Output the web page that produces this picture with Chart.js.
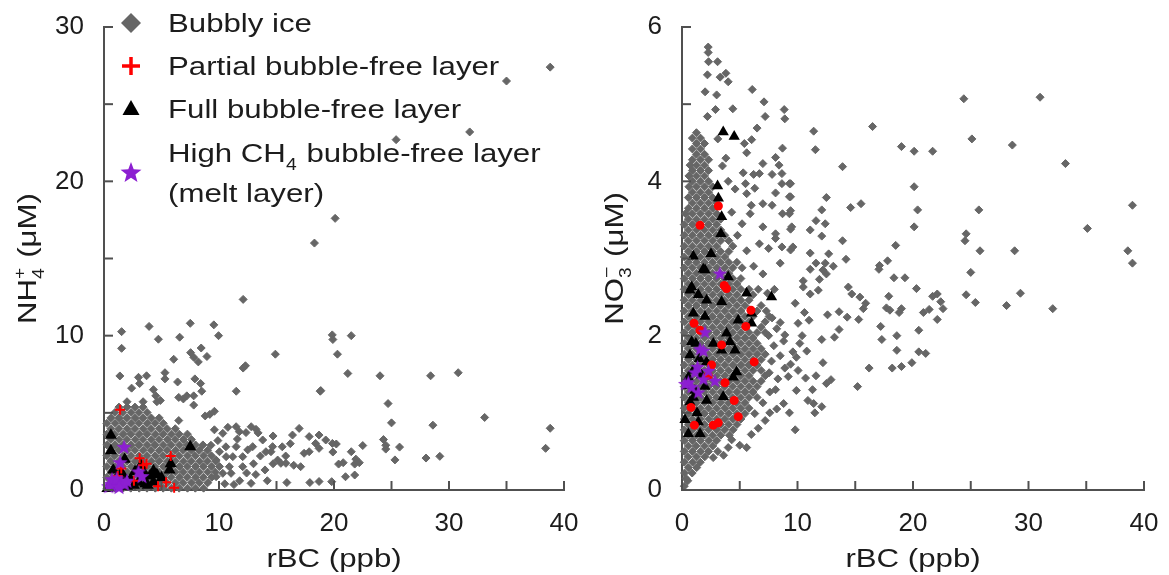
<!DOCTYPE html>
<html>
<head>
<meta charset="utf-8">
<script src="https://cdn.jsdelivr.net/npm/chart.js@4/dist/chart.umd.min.js"></script>
<style>
html, body { margin: 0; padding: 0; background: #fff; }
#wrap { position: relative; width: 1169px; height: 575px; }
.panel { position: absolute; top: 0; height: 575px; }
#p1 { left: 0; width: 585px; }
#p2 { left: 585px; width: 584px; }
</style>
</head>
<body>
<div id="wrap">
  <div class="panel" id="p1"><canvas id="c1"></canvas></div>
  <div class="panel" id="p2"><canvas id="c2"></canvas></div>
</div>
<script>
var FONT = "'Liberation Sans', Arial, sans-serif";
var INK = '#1c1c1c', AXIS = '#505050';
var GRAY = '#666666', RED = '#ff0000', BLACK = '#000000', PURPLE = '#8c1fd1';
var STRETCH = 1.2;

// axis ticks
var xTickMarks = [0, 5, 10, 15, 20, 25, 30, 35, 40];
var nh4TickMarks = [0, 5, 10, 15, 20, 25, 30];
var no3TickMarks = [0, 1, 2, 3, 4, 5, 6];
var legendLabels = ['Bubbly ice', 'Partial bubble-free layer', 'Full bubble-free layer', 'High CH', '4', ' bubble-free layer', '(melt layer)'];

// ---- NH4+ panel (left) ----
// dense bubbly cloud: each row is [y, x, x, ...]
var nh4BubblyRows = [
  [0.12, 0.25,0.93,1.66,2.33,3.06,3.74,4.46,5.14,5.86,6.53,7.26,7.94,8.66],
  [0.47, 0.6,1.31,1.98,2.71,3.38,4.1,4.82,5.49,6.21,6.88,7.61,8.29,9.02],
  [0.82, 0.25,0.95,1.64,2.36,3.04,3.76,4.44,5.16,5.84,6.56,7.24,7.96,8.64,9.36],
  [1.17, 0.6,1.29,2.02,2.69,3.41,4.09,4.81,5.49,6.21,6.89,7.61,8.29,9.01,9.68],
  [1.52, 0.25,0.96,1.64,2.36,3.04,3.76,4.44,5.16,5.84,6.56,7.24,7.96,8.64,9.36,10.05],
  [1.87, 0.6,1.31,1.99,2.71,3.39,4.11,4.79,5.51,6.19,6.91,7.59,8.31,8.99,9.71],
  [2.22, 0.25,0.94,1.66,2.34,3.06,3.74,4.46,5.14,5.86,6.54,7.26,7.94,8.66,9.34],
  [2.57, 0.6,1.29,2.01,2.69,3.41,4.09,4.81,5.49,6.21,6.89,7.61,8.29,9.0],
  [2.92, 0.25,0.96,1.64,2.36,3.04,3.76,4.44,5.16,5.84,6.56,7.24,7.96,8.6],
  [3.27, 0.6,1.31,1.99,2.71,3.39,4.11,4.79,5.51,6.19,6.91,7.6],
  [3.62, 0.25,0.94,1.66,2.34,3.06,3.74,4.46,5.14,5.86,6.54,7.25],
  [3.97, 0.6,1.29,2.01,2.69,3.41,4.09,4.81,5.49,6.2],
  [4.32, 0.25,0.96,1.64,2.36,3.04,3.76,4.44,5.15],
  [4.67, 0.6,1.31,1.99,2.71,3.39,4.11,4.8],
  [5.02, 0.95,1.64,2.36,3.04,3.75],
  [5.37, 1.3,2.01,2.69,3.4],
  [5.72, 2.0,3.4,4.6]
];
// scattered bubbly points, flat x,y pairs
var nh4BubblySparse = [
  38.8,27.4, 35.0,26.5, 31.8,23.2, 25.4,22.7, 20.1,17.6, 18.3,16.0, 12.1,12.35,
  33.1,4.7, 38.8,4.0, 38.4,2.7, 30.8,7.6, 28.4,7.4, 24.0,7.4, 21.2,7.55, 20.3,8.8,
  21.5,10.0, 19.85,10.05, 19.9,9.75, 14.9,8.8, 18.8,6.4, 24.7,5.6, 25.0,4.35, 28.6,4.2,
  28.0,2.07, 29.2,2.18, 25.3,1.95, 25.7,2.78, 24.3,3.27, 24.5,2.9, 24.5,2.65, 22.5,2.88,
  21.5,2.48, 21.8,1.68, 22.2,1.77, 20.2,2.98, 19.9,2.46, 20.4,1.68, 20.8,1.77, 21.0,0.86,
  21.8,0.97, 19.8,0.54, 18.7,0.55, 17.9,0.48, 15.9,0.48, 14.2,0.6, 21.9,2.0,
  1.53,10.26, 3.92,10.6, 7.5,10.8, 9.55,10.7, 9.96,10.0, 4.73,9.77, 6.58,9.9, 1.53,9.18,
  7.53,8.9, 8.45,9.2, 8.95,8.65, 7.8,8.6, 8.2,8.3, 6.06,8.47, 12.1,7.9, 12.3,8.05,
  18.85,6.44, 1.38,7.39, 3.0,7.3, 3.7,7.4, 5.3,7.6, 5.3,7.2, 6.4,7.0, 7.9,7.2, 8.4,6.9,
  8.5,6.4, 2.4,6.6, 3.1,6.9, 4.3,6.5, 4.5,6.1, 4.9,5.8, 11.5,6.4, 7.8,6.1, 7.8,5.5,
  6.5,6.0, 6.9,5.9, 7.2,6.1, 9.6,5.1, 9.2,4.9, 8.8,4.8, 6.5,4.5,
  10.33,3.67, 10.77,4.06, 11.49,4.1, 11.77,3.78, 12.35,3.72, 12.93,2.81, 13.22,3.93,
  13.8,3.24, 14.08,2.48, 14.52,2.48, 14.66,2.81, 15.1,1.94, 15.38,1.73, 15.82,1.73,
  16.39,3.56, 16.97,3.99, 17.1,1.51, 17.4,2.38, 17.84,2.48, 17.84,3.46, 18.4,3.02,
  18.7,2.7, 18.7,3.56, 19.28,3.24, 19.86,3.02, 11.49,2.81, 11.2,2.16, 12.06,2.16,
  12.06,1.51, 12.79,0.43, 10.62,2.16, 10.9,1.51, 11.05,1.08, 9.75,0.86, 9.75,1.94,
  10.04,2.48, 10.33,1.08, 9.6,3.9, 9.9,3.2, 9.3,2.9, 10.6,2.8, 12.8,4.1, 13.4,3.7,
  14.7,3.5, 13.2,1.0, 13.6,2.2, 14.0,1.3, 14.7,1.7, 15.8,2.2, 16.5,1.6, 16.2,3.0,
  15.5,2.8, 11.6,3.3, 12.5,2.6, 13.0,1.7, 11.8,0.6, 10.5,0.4, 11.3,0.35, 12.4,1.1
];
var nh4Partial = [1.4,5.2, 5.8,2.2, 3.1,2.05, 3.7,1.7, 4.7,0.25, 5.4,0.5, 6.1,0.15, 1.5,1.4, 2.6,0.6, 3.4,1.6, 1.2,0.9];
var nh4Full = [0.6,3.55, 0.6,2.55, 7.5,2.8, 5.8,1.7, 5.7,1.3, 4.3,1.25, 4.6,1.0, 5.0,0.8, 4.0,0.9, 3.2,1.6,
  3.5,1.1, 3.0,0.5, 2.3,0.7, 1.5,1.1, 1.8,2.0, 1.0,0.5, 0.5,0.3, 0.3,0.1, 1.2,0.2, 2.0,0.25,
  2.6,0.3, 3.6,0.4, 4.3,0.5, 1.7,0.9, 0.8,1.3, 2.7,1.2, 3.8,0.3, 1.1,0.8];
var nh4High = [1.75,2.8, 1.4,1.8, 3.0,1.2, 3.3,0.9, 0.6,0.4, 0.9,0.5, 1.2,0.35, 1.5,0.55, 1.8,0.4, 0.7,0.7,
  1.1,0.75, 0.4,0.25, 1.3,0.2, 2.0,0.6];

// ---- NO3- panel (right) ----
var no3BubblyRows = [
  [0.22, 0.22,0.88], [0.29, 0.55,1.27], [0.36, 0.2,0.92,1.58], [0.43, 0.53,1.25,1.97],
  [0.50, 0.2,0.9,1.62,2.3], [0.57, 0.55,1.23,1.95,2.66], [0.64, 0.2,0.91,1.6,2.32,3.0],
  [0.71, 0.56,1.25,1.94,2.65,3.36,4.1], [0.78, 0.2,0.9,1.6,2.3,3.02,3.7,4.42],
  [0.85, 0.55,1.26,1.95,2.64,3.35,4.05,4.76], [0.92, 0.21,0.9,1.6,2.31,3.0,3.7,4.4,5.1],
  [0.99, 0.55,1.25,1.94,2.65,3.36,4.05,4.75,5.45,6.3], [1.06, 0.2,0.9,1.6,2.3,3.0,3.71,4.4,5.1,5.8],
  [1.13, 0.55,1.25,1.95,2.65,3.35,4.05,4.75,5.45,7.0], [1.20, 0.2,0.9,1.6,2.3,3.0,3.7,4.4,5.1,5.8,6.5],
  [1.27, 0.55,1.25,1.95,2.65,3.35,4.05,4.75,5.45,6.15,7.6],
  [1.34, 0.2,0.9,1.6,2.3,3.0,3.7,4.4,5.1,5.8,6.5],
  [1.41, 0.55,1.25,1.95,2.65,3.35,4.05,4.75,5.45,6.15,6.85],
  [1.48, 0.2,0.9,1.6,2.3,3.0,3.7,4.4,5.1,5.8,7.2],
  [1.55, 0.55,1.25,1.95,2.65,3.35,4.05,4.75,5.45,6.15,6.85],
  [1.62, 0.2,0.9,1.6,2.3,3.0,3.7,4.4,5.1,5.8,6.5],
  [1.69, 0.55,1.25,1.95,2.65,3.35,4.05,4.75,5.45,6.15,6.85],
  [1.76, 0.2,0.9,1.6,2.3,3.0,3.7,4.4,5.1,5.8,6.5,7.2],
  [1.83, 0.55,1.25,1.95,2.65,3.35,4.05,4.75,5.45,6.15,6.85],
  [1.90, 0.2,0.9,1.6,2.3,3.0,3.7,4.4,5.1,5.8,6.5],
  [1.97, 0.55,1.25,1.95,2.65,3.35,4.05,4.75,5.45,6.15],
  [2.04, 0.2,0.9,1.6,2.3,3.0,3.7,4.4,5.1,5.8,6.5,7.2],
  [2.11, 0.55,1.25,1.95,2.65,3.35,4.05,4.75,5.45,6.85],
  [2.18, 0.2,0.9,1.6,2.3,3.0,3.7,4.4,5.1,5.8,7.2],
  [2.25, 0.55,1.25,1.95,2.65,3.35,4.05,4.75,5.45,6.15,7.55],
  [2.32, 0.2,0.9,1.6,2.3,3.0,3.7,4.4,5.1,6.5,7.3],
  [2.39, 0.55,1.25,1.95,2.65,3.35,4.05,4.75,5.45,6.85],
  [2.46, 0.2,0.9,1.6,2.3,3.0,3.7,4.4,5.1,5.8],
  [2.53, 0.55,1.25,1.95,2.65,3.35,4.05,4.75,6.15],
  [2.60, 0.2,0.9,1.6,2.3,3.0,3.7,4.4,5.1,5.8],
  [2.67, 0.55,1.25,1.95,2.65,3.35,4.05,4.75],
  [2.74, 0.2,0.9,1.6,2.3,3.0,3.7,4.4,5.1],
  [2.81, 0.55,1.25,1.95,2.65,3.35,4.05],
  [2.88, 0.2,0.9,1.6,2.3,3.0,3.7,4.4,5.2],
  [2.95, 0.55,1.25,1.95,2.65,3.35,4.05,4.75],
  [3.02, 0.2,0.9,1.6,2.3,3.0,3.7],
  [3.09, 0.55,1.25,1.95,2.65,3.35,4.05],
  [3.16, 0.2,0.9,1.6,2.3,3.0,4.4],
  [3.23, 0.55,1.25,1.95,2.65,3.35,4.05],
  [3.30, 0.2,0.9,1.6,2.3,3.0,3.7],
  [3.37, 0.55,1.25,1.95,2.65,3.35],
  [3.44, 0.2,0.9,1.6,2.3,3.0],
  [3.51, 0.55,1.25,1.95,2.65,3.35],
  [3.58, 0.3,0.9,1.6,2.3,3.0],
  [3.65, 0.55,1.25,1.95,2.65],
  [3.72, 0.9,1.6,2.3,3.0], [3.79, 0.55,1.25,1.95,2.65], [3.86, 0.9,1.6,2.3],
  [3.93, 0.6,1.25,1.95,2.65], [4.00, 0.9,1.6,2.3], [4.07, 0.6,1.25,1.95],
  [4.14, 0.9,1.6,2.3], [4.21, 0.7,1.25,1.95], [4.28, 0.9,1.6,2.3], [4.35, 1.25,1.95],
  [4.42, 0.9,1.6], [4.49, 1.25,1.95], [4.56, 0.9,1.6], [4.63, 1.25]
];
var no3BubblySparse = [
  2.27,5.74, 2.27,5.67, 2.3,5.55, 3.08,5.55, 2.2,5.38, 3.3,5.35, 3.8,5.4, 4.0,5.29, 2.0,5.16,
  3.0,5.12, 6.08,5.19, 2.9,4.93, 4.4,4.94, 7.1,5.03, 2.2,4.84, 7.2,4.84, 8.85,4.93, 8.9,4.81,
  6.5,4.69, 6.03,4.54, 5.4,4.49, 8.7,4.43, 8.1,4.31, 8.4,4.21, 7.8,4.09, 8.65,4.1, 7.0,4.23,
  6.7,4.1, 5.6,4.37, 5.3,4.11, 6.2,4.09, 5.5,3.97, 6.3,3.91, 8.65,3.97, 9.4,3.97, 8.1,3.85,
  9.4,3.8, 7.0,3.71, 7.8,3.69, 8.7,3.58, 9.4,3.62, 9.4,3.38, 6.0,3.69, 5.9,3.58, 5.6,3.84,
  5.2,3.45, 7.0,3.41, 8.1,3.32, 6.7,3.19, 7.5,3.13, 8.1,3.26, 8.65,3.15, 9.4,3.11, 8.5,2.94,
  4.3,3.6, 4.6,3.9, 3.8,4.3, 3.1,4.55, 4.0,4.0, 3.5,4.2, 4.8,3.3, 5.6,3.1, 6.2,2.9, 7.0,2.8,
  6.6,2.6, 7.4,2.55, 8.0,2.6,
  7.55,1.52, 8.3,1.44, 8.9,1.58, 7.75,1.67, 8.5,1.74, 9.4,1.63, 7.95,1.87, 8.8,1.93,
  9.6,1.79, 7.5,2.0, 8.2,2.09, 8.9,2.01, 7.8,2.23, 8.5,2.17, 9.2,1.47, 8.1,1.3,
  24.4,5.07, 31.0,5.09, 11.4,4.65, 16.5,4.71, 11.55,4.41, 25.1,4.55, 28.6,4.47, 19.0,4.45,
  20.1,4.39, 21.7,4.39, 13.9,4.19, 33.2,4.23, 20.1,3.93, 20.4,3.63, 20.1,3.41, 25.7,3.63,
  39.0,3.69, 35.1,3.39, 38.6,3.1, 39.0,2.94, 24.6,3.32, 24.5,3.23, 25.8,3.1, 28.8,3.1,
  25.0,2.82, 24.6,2.53, 25.4,2.43, 29.3,2.55, 28.1,2.39, 32.1,2.35, 14.6,3.66, 15.5,3.71,
  12.5,3.79, 12.1,3.63, 11.6,3.49, 12.4,3.45, 11.1,3.37, 12.1,3.29, 13.9,3.23, 14.2,2.99,
  18.5,3.17, 17.1,2.91, 17.05,2.86, 17.8,2.97, 18.35,2.75, 19.3,2.75, 20.3,2.61, 17.9,2.51,
  17.7,2.36, 18.0,2.33, 19.0,2.35, 18.8,2.3, 21.7,2.51, 22.1,2.54, 22.4,2.44, 22.6,2.35,
  21.4,2.34, 20.9,2.3, 22.1,2.21, 14.4,2.63, 14.7,2.54, 15.4,2.5, 15.9,2.42, 15.7,2.35,
  15.3,2.21, 14.3,2.24, 13.6,2.31, 12.6,2.27, 17.2,2.12, 17.3,1.95, 18.6,2.0, 18.6,1.81,
  20.5,2.07, 20.5,1.79, 21.1,1.77, 19.9,1.65, 19.0,1.6, 18.2,1.58, 16.2,1.58, 15.2,1.34,
  13.2,1.98, 13.6,2.08, 12.1,1.95, 12.2,1.65, 11.6,1.48, 12.5,1.38, 12.9,1.43, 11.3,1.3,
  10.9,1.16, 11.4,1.12, 12.1,1.08, 11.5,1.0, 11.1,3.07, 11.6,2.94, 12.2,2.85, 11.9,2.73,
  12.4,2.94, 12.7,3.06, 13.1,2.9, 12.5,2.8, 11.8,2.59, 11.1,2.86, 10.5,2.71, 11.1,2.54,
  10.5,2.63, 9.6,3.15, 9.3,3.58, 9.5,3.41, 9.3,3.8, 9.3,3.97, 9.8,2.42, 10.05,2.16,
  10.2,1.9, 9.9,1.72, 10.05,1.55, 9.9,1.29, 10.6,2.3, 10.4,2.0, 10.8,1.8, 11.0,2.2, 10.7,1.45,
  4.3,0.65, 5.0,0.58, 5.6,0.55, 6.0,0.72, 6.6,0.8, 7.2,0.9, 7.6,1.0, 8.2,1.05, 8.8,1.12,
  9.3,1.0, 9.8,0.78, 3.6,0.45, 4.0,0.55, 0.2,0.05, 0.5,0.12, 0.35,0.15, 2.7,0.42, 3.1,0.5
];
var no3Partial = [3.15,3.68, 1.56,3.43, 3.66,2.65, 3.86,2.61, 5.97,2.33, 5.53,2.12, 1.04,2.16, 1.56,2.07,
  6.25,1.66, 2.56,1.62, 3.72,1.39, 4.52,1.16, 4.87,0.95, 0.78,1.07, 1.07,0.84, 2.71,0.84,
  3.14,0.87, 2.28,1.48, 3.43,1.88];
var no3Full = [3.57,4.64, 4.52,4.58, 3.08,3.94, 3.15,3.78, 3.43,3.54, 3.37,3.32, 0.98,3.03, 2.51,3.06,
  1.84,2.86, 4.0,2.76, 0.84,2.63, 2.0,2.85, 0.69,2.59, 1.41,2.53, 2.13,2.46, 0.98,2.29,
  1.99,2.25, 3.43,2.44, 5.59,2.55, 7.75,2.5, 4.87,2.2, 6.02,2.29, 6.02,2.16, 0.84,1.92,
  2.71,1.9, 3.86,2.03, 4.15,1.92, 4.58,1.81, 0.69,1.75, 3.43,1.81, 2.13,1.66, 0.98,1.55,
  0.55,1.46, 1.7,1.49, 4.44,1.46, 3.57,1.21, 1.99,1.34, 1.12,1.29, 0.69,1.14, 2.13,1.16,
  0.26,0.91, 1.41,0.88, 0.55,0.73, 1.56,0.73, 4.72,1.53, 1.3,1.0, 1.0,1.2, 0.5,1.35, 1.5,1.7, 1.2,1.9];
var no3High = [3.28,2.81, 1.99,2.05, 1.56,1.83, 1.85,1.81, 1.35,1.6, 1.12,1.53, 0.55,1.4, 1.85,1.44,
  2.85,1.42, 1.41,1.27, 0.84,1.34, 2.28,1.55, 0.26,1.38];

function rowsToPoints(rows) {
  var out = [];
  rows.forEach(function (r) {
    for (var i = 1; i < r.length; i++) out.push({ x: r[i], y: r[0] });
  });
  return out;
}
function pairsToPoints(a) {
  var out = [];
  for (var i = 0; i < a.length; i += 2) out.push({ x: a[i], y: a[i + 1] });
  return out;
}

function starImage(size, color) {
  var c = document.createElement('canvas');
  c.width = size; c.height = size;
  var g = c.getContext('2d');
  var R = size / 2, r = R * 0.42, cy = R + R * 0.1;
  g.beginPath();
  for (var i = 0; i < 10; i++) {
    var a = -Math.PI / 2 + i * Math.PI / 5;
    var rr = i % 2 ? r : R;
    g.lineTo(R + rr * Math.cos(a), cy + rr * Math.sin(a));
  }
  g.closePath();
  g.fillStyle = color;
  g.fill();
  return c;
}

// text pieces: plain strings or {sub, sup}
function drawRich(ctx, segs, x, y, size, align) {
  var small = Math.round(size * 0.62);
  var w = segs.map(function (s) {
    if (typeof s === 'string') { ctx.font = size + 'px ' + FONT; return ctx.measureText(s).width; }
    ctx.font = small + 'px ' + FONT;
    return Math.max(ctx.measureText(s.sub || '').width, ctx.measureText(s.sup || '').width) + 1;
  });
  var total = w.reduce(function (a, b) { return a + b; }, 0) * STRETCH;
  ctx.save();
  ctx.translate(align === 'center' ? x - total / 2 : x, y);
  ctx.scale(STRETCH, 1);
  ctx.fillStyle = INK;
  ctx.textAlign = 'left';
  ctx.textBaseline = 'alphabetic';
  var p = 0;
  segs.forEach(function (s, i) {
    if (typeof s === 'string') {
      ctx.font = size + 'px ' + FONT;
      ctx.fillText(s, p, 0);
    } else {
      ctx.font = small + 'px ' + FONT;
      if (s.sub) ctx.fillText(s.sub, p, size * 0.3);
      if (s.sup) ctx.fillText(s.sup, p, -size * 0.42);
    }
    p += w[i];
  });
  ctx.restore();
}

var bigStar = starImage(22, PURPLE);

function drawLegend(ctx) {
  var mx = 131, tx = 168;
  ctx.fillStyle = GRAY;
  ctx.beginPath();
  ctx.moveTo(mx, 13); ctx.lineTo(mx + 10, 23); ctx.lineTo(mx, 33); ctx.lineTo(mx - 10, 23);
  ctx.closePath(); ctx.fill();
  ctx.strokeStyle = RED; ctx.lineWidth = 3.5;
  ctx.beginPath();
  ctx.moveTo(mx - 9, 66); ctx.lineTo(mx + 9, 66);
  ctx.moveTo(mx, 57); ctx.lineTo(mx, 75);
  ctx.stroke();
  ctx.fillStyle = BLACK;
  ctx.beginPath();
  ctx.moveTo(mx, 100); ctx.lineTo(mx + 8.5, 115); ctx.lineTo(mx - 8.5, 115);
  ctx.closePath(); ctx.fill();
  ctx.drawImage(bigStar, mx - 11, 173 - 12);
  drawRich(ctx, [legendLabels[0]], tx, 32, 26, 'left');
  drawRich(ctx, [legendLabels[1]], tx, 75, 26, 'left');
  drawRich(ctx, [legendLabels[2]], tx, 118, 26, 'left');
  drawRich(ctx, [legendLabels[3], { sub: legendLabels[4] }, legendLabels[5]], tx, 162, 26, 'left');
  drawRich(ctx, [legendLabels[6]], tx, 202, 26, 'left');
}

var decor = {
  id: 'decor',
  afterDraw: function (chart, args, o) {
    var ctx = chart.ctx, a = chart.chartArea, x = chart.scales.x, y = chart.scales.y;
    ctx.save();
    ctx.strokeStyle = AXIS;
    ctx.lineWidth = 2;
    o.xTicks.forEach(function (v) {
      var p = x.getPixelForValue(v);
      ctx.beginPath(); ctx.moveTo(p, a.bottom); ctx.lineTo(p, a.bottom - 9); ctx.stroke();
    });
    o.yTicks.forEach(function (v) {
      var p = y.getPixelForValue(v);
      ctx.beginPath(); ctx.moveTo(a.left, p); ctx.lineTo(a.left + 9, p); ctx.stroke();
    });
    drawRich(ctx, ['rBC (ppb)'], (a.left + a.right) / 2, 567, 26, 'center');
    ctx.save();
    ctx.translate(o.yTitleX, (a.top + a.bottom) / 2);
    ctx.rotate(-Math.PI / 2);
    drawRich(ctx, o.yTitle, 0, 9, 26, 'center');
    ctx.restore();
    if (o.legend) drawLegend(ctx);
    ctx.restore();
  }
};

function makeChart(id, cfg) {
  var tickFont = { family: FONT, size: 26 };
  return new Chart(document.getElementById(id), {
    type: 'scatter',
    data: { datasets: cfg.datasets },
    options: {
      responsive: true,
      maintainAspectRatio: false,
      animation: false,
      layout: { padding: { top: 27, right: cfg.padRight, left: 0, bottom: 0 } },
      plugins: { legend: { display: false }, tooltip: { enabled: false }, decor: cfg.decor },
      scales: {
        x: {
          type: 'linear', min: 0, max: 40,
          ticks: { stepSize: 10, font: tickFont, color: INK, padding: 18, maxRotation: 0 },
          grid: { display: false, drawTicks: false },
          border: { display: true, color: AXIS, width: 2 },
          afterFit: function (s) { s.height = 85; s.paddingLeft = 0; s.paddingRight = 0; }
        },
        y: {
          type: 'linear', min: 0, max: cfg.yMax,
          ticks: { stepSize: cfg.yStep, font: tickFont, color: INK, padding: 20 },
          grid: { display: false, drawTicks: false },
          border: { display: true, color: AXIS, width: 2 },
          afterFit: function (s) { s.width = cfg.yWidth; s.paddingTop = 0; s.paddingBottom = 0; }
        }
      }
    },
    plugins: [decor]
  });
}

function bubbly(rows, sparse) {
  return {
    label: legendLabels[0], data: rowsToPoints(rows).concat(pairsToPoints(sparse)),
    pointStyle: 'rectRot', pointRadius: 4, pointBackgroundColor: GRAY,
    pointBorderColor: GRAY, pointBorderWidth: 1, clip: false
  };
}

makeChart('c1', {
  yMax: 30, yStep: 10, yWidth: 104, padRight: 21,
  decor: { xTicks: xTickMarks, yTicks: nh4TickMarks, yTitleX: 27, legend: true,
    yTitle: ['NH', { sub: '4', sup: '+' }, ' (\u03bcM)'] },
  datasets: [
    { label: 'High CH4', data: pairsToPoints(nh4High), pointStyle: starImage(16, PURPLE), pointRadius: 7, clip: false },
    { label: legendLabels[1], data: pairsToPoints(nh4Partial), pointStyle: 'cross', pointRadius: 5,
      pointBorderColor: RED, pointBorderWidth: 2, clip: false },
    { label: legendLabels[2], data: pairsToPoints(nh4Full), pointStyle: 'triangle', pointRadius: 7,
      pointBackgroundColor: BLACK, pointBorderColor: BLACK, pointBorderWidth: 0, clip: false },
    bubbly(nh4BubblyRows, nh4BubblySparse)
  ]
});

makeChart('c2', {
  yMax: 6, yStep: 2, yWidth: 97, padRight: 25,
  decor: { xTicks: xTickMarks, yTicks: no3TickMarks, yTitleX: 29, legend: false,
    yTitle: ['NO', { sub: '3', sup: '\u2212' }, ' (\u03bcM)'] },
  datasets: [
    { label: 'High CH4', data: pairsToPoints(no3High), pointStyle: starImage(15, PURPLE), pointRadius: 7, clip: false },
    { label: legendLabels[1], data: pairsToPoints(no3Partial), pointStyle: 'circle', pointRadius: 4.5,
      pointBackgroundColor: RED, pointBorderColor: RED, pointBorderWidth: 0, clip: false },
    { label: legendLabels[2], data: pairsToPoints(no3Full), pointStyle: 'triangle', pointRadius: 6.5,
      pointBackgroundColor: BLACK, pointBorderColor: BLACK, pointBorderWidth: 0, clip: false },
    bubbly(no3BubblyRows, no3BubblySparse)
  ]
});
</script>
</body>
</html>
